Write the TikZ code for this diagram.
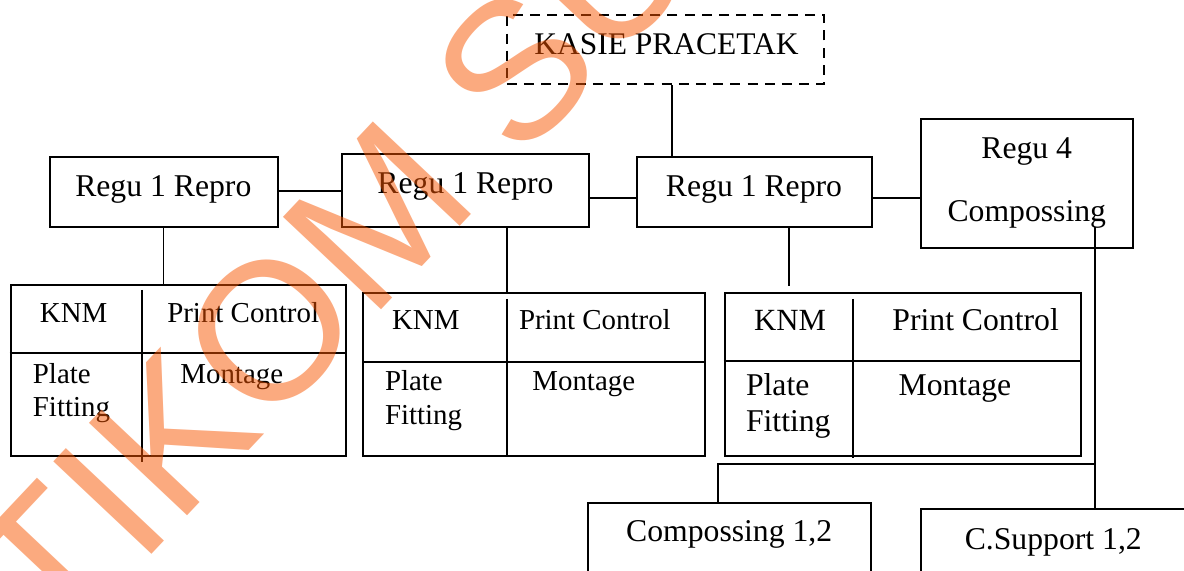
\documentclass[tikz,border=0pt]{standalone}
\usepackage{fontspec}
\setmainfont{Liberation Serif}
\newfontfamily\wmfont{Liberation Sans}
\begin{document}
\begin{tikzpicture}[x=0.5pt,y=-0.5pt,
  box/.style={draw, line width=1pt, inner sep=0pt, rectangle},
  link/.style={line width=0.85pt},
  rule/.style={line width=1pt},
  big/.style={inner sep=0pt, font=\fontsize{15.85pt}{19pt}\selectfont},
  mid/.style={inner sep=0pt, font=\fontsize{15.4pt}{18pt}\selectfont},
  head/.style={inner sep=0pt, font=\fontsize{15.75pt}{18pt}\selectfont},
  small/.style={inner sep=0pt, font=\fontsize{14.45pt}{17pt}\selectfont},
  mark wm/.style={inner sep=0pt, text=wmorange, opacity=0.5,
    font=\wmfont\fontsize{98pt}{110pt}\selectfont}]
\definecolor{wmorange}{RGB}{247,85,0}
\useasboundingbox (0,0) rectangle (1184,571);

% ---- boxes ----
\node[box, dashed, dash pattern=on 5pt off 3.6pt, minimum width=158.65pt, minimum height=34.65pt] (kasie) at (665.4,49.7) {};
\node[box, minimum width=113.85pt, minimum height=34.85pt] (r1) at (163.65,192) {};
\node[box, minimum width=123.8pt, minimum height=36.35pt] (r2) at (465.6,190.35) {};
\node[box, minimum width=117.5pt, minimum height=34.85pt] (r3) at (754.5,191.85) {};
\node[box, minimum width=106pt, minimum height=64.5pt] (r4) at (1027,183.5) {};
\node[box, minimum width=167.8pt, minimum height=85.35pt] (ta) at (178.5,370.35) {};
\node[box, minimum width=170.6pt, minimum height=81.35pt] (tb) at (533.9,374.35) {};
\node[box, minimum width=178.15pt, minimum height=81.5pt] (tc) at (902.65,374.2) {};
\node[box, minimum width=141.5pt, minimum height=58.5pt] (cmp) at (729.5,561.5) {};
\node[box, minimum width=159.5pt, minimum height=55.5pt] (csup) at (1080.5,564.5) {};

% ---- table grid lines ----
\draw[rule] (ta.west |- 0,352.7) -- (ta.east |- 0,352.7);
\draw[rule] (142.4,290) -- (142.4,461.7);
\draw[rule] (tb.west |- 0,362.3) -- (tb.east |- 0,362.3);
\draw[rule] (507,299) -- (tb.south -| 507,0);
\draw[rule] (tc.west |- 0,360.7) -- (tc.east |- 0,360.7);
\draw[rule] (853,299) -- (853,458);

% ---- connectors ----
\draw[link] (kasie.south -| 672,0) -- (r3.north -| 672,0);
\draw[link] (r1.east |- 0,191.2) -- (r2.west |- 0,191.2);
\draw[link] (r2.east |- 0,197.7) -- (r3.west |- 0,197.7);
\draw[link] (r3.east |- 0,197.7) -- (r4.west |- 0,197.7);
\draw[link] (r1.south -| 163.4,0) -- (ta.north -| 163.4,0);
\draw[link] (r2.south -| 507,0) -- (tb.north -| 507,0);
\coordinate (r3tail) at (789,286);
\draw[link] (r3.south -| r3tail) -- (r3tail);
\coordinate (r4tail) at (1095,227);
\draw[link] (r4tail) -- (r4tail |- csup.north);
\draw[link] (r4tail |- 0,464) -| (cmp.north -| 718,0);

% ---- labels ----
\node[head, anchor=base] (tkasie) at (666.5,55) {KASIE PRACETAK};
\node[big, anchor=base] (tr1) at (163.3,196.7) {Regu 1 Repro};
\node[big, anchor=base] (tr2) at (465.5,193.3) {Regu 1 Repro};
\node[big, anchor=base] (tr3) at (754,196.7) {Regu 1 Repro};
\node[big, anchor=base] (tr4a) at (1026.7,158.3) {Regu 4};
\node[big, anchor=base] (tr4b) at (1026.8,221.7) {Compossing};

\node[small, anchor=base] (aknm) at (73.7,322.7) {KNM};
\node[small, anchor=base west] (apc) at (166.9,322.7) {Print Control};
\node[small, anchor=base west] (apl) at (32.5,383.3) {Plate};
\node[small, anchor=base west] (afi) at (32.5,416.7) {Fitting};
\node[small, anchor=base west] (amo) at (180,383.3) {Montage};

\node[small, anchor=base] (bknm) at (425.8,329.3) {KNM};
\node[small, anchor=base west] (bpc) at (518.6,329.3) {Print Control};
\node[small, anchor=base west] (bpl) at (384.6,390.7) {Plate};
\node[small, anchor=base west] (bfi) at (384.6,425) {Fitting};
\node[small, anchor=base west] (bmo) at (532,390.7) {Montage};

\node[mid, anchor=base] (cknm) at (790,330.7) {KNM};
\node[big, anchor=base west] (cpc) at (892,330.7) {Print Control};
\node[big, anchor=base west] (cpl) at (745.6,396) {Plate};
\node[big, anchor=base west] (cfi) at (745.6,431.7) {Fitting};
\node[big, anchor=base west] (cmo) at (898.2,396) {Montage};

\node[big, anchor=base] (tcmp) at (729.2,541.7) {Compossing 1,2};
\node[big, anchor=base] (tcsup) at (1053.3,550) {C.Support 1,2};

% ---- watermark ----
\node[mark wm, anchor=base west, rotate=46.7] (wm) at (-33,750) {STIKOM SURABAYA};
\end{tikzpicture}
\end{document}
